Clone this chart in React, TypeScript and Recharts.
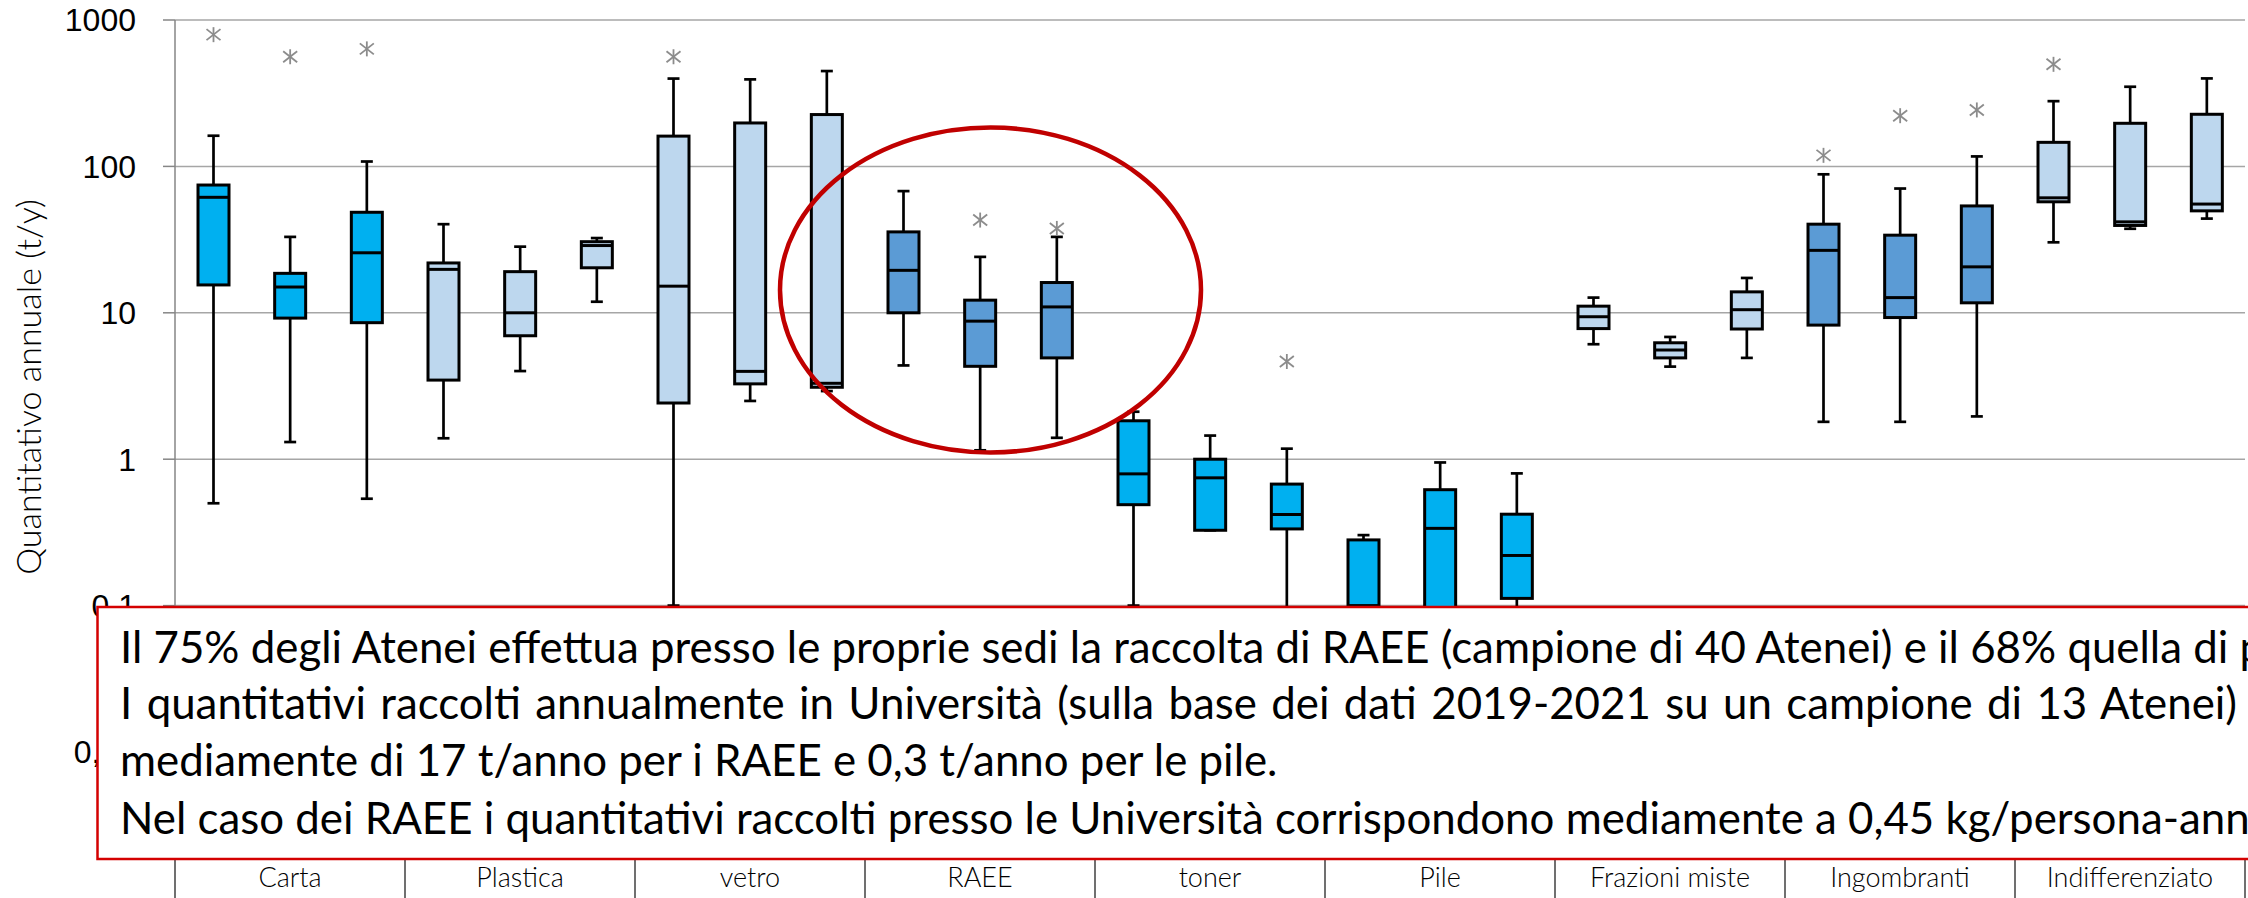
import React, { useLayoutEffect, useRef, useState } from 'react';
import { ComposedChart, Bar, XAxis, YAxis, CartesianGrid } from 'recharts';

const W = 2248;
const H = 898;
const PLOT_LEFT = 175;
const PLOT_RIGHT = 2245;
const PLOT_TOP = 20;
const AXIS_H = 146;
const N = 27;
const BAND = (PLOT_RIGHT - PLOT_LEFT) / N;
const BOX_W = 31;
const TEXT_X = 120;

const categories = ['Carta', 'Plastica', 'vetro', 'RAEE', 'toner', 'Pile', 'Frazioni miste', 'Ingombranti', 'Indifferenziato'];
const years = ['2019', '2020', '2021'];
const categoryColors = ['#00B0F0', '#BDD7EE', '#BDD7EE', '#5B9BD5', '#00B0F0', '#00B0F0', '#BDD7EE', '#5B9BD5', '#BDD7EE'];

// three boxes per category (2019, 2020, 2021), values in t/y
const whiskerLow = [0.5, 1.31, 0.537, 1.39, 4.0, 11.9, 0.1, 2.5, 2.92, 4.37, 1.15, 1.4, 0.1, 0.327, 0.09, 0.03, 0.02, 0.05, 6.1, 4.29, 4.92, 1.8, 1.8, 1.96, 30.3, 37.5, 44];
const q1 = [15.5, 9.2, 8.56, 3.47, 6.97, 20.3, 2.42, 3.27, 3.1, 10, 4.31, 4.92, 0.489, 0.327, 0.334, 0.05, 0.05, 0.112, 7.8, 4.92, 7.75, 8.24, 9.28, 11.7, 57.3, 39.5, 49.7];
const median = [61.5, 15, 25.7, 19.8, 10, 28.8, 15.2, 3.98, 3.3, 19.5, 8.77, 10.97, 0.794, 0.746, 0.419, 0.1, 0.337, 0.22, 9.4, 5.57, 10.5, 26.7, 12.7, 20.6, 61, 41.8, 55.3];
const q3 = [74.6, 18.6, 48.6, 21.9, 19.1, 30.6, 161, 198, 226, 35.7, 12.2, 16.1, 1.83, 1.0, 0.676, 0.281, 0.619, 0.421, 11.1, 6.24, 13.9, 40.3, 33.9, 53.7, 146, 197, 227];
const whiskerHigh = [162, 33, 108, 40.3, 28.3, 32.4, 398, 393, 448, 67.8, 24.1, 33, 2.11, 1.45, 1.18, 0.303, 0.95, 0.8, 12.7, 6.84, 17.3, 88.3, 70.6, 117, 279, 350, 399];
const outliers: (number | null)[] = [794, 561, 635, null, null, null, 561, null, null, null, 43, 37.7, null, null, 4.65, null, null, null, null, null, null, 119, 222, 243, 498, null, null];

const yTicks = [0.01, 0.1, 1, 10, 100, 1000];

const textLines = [
  'Il 75% degli Atenei effettua presso le proprie sedi la raccolta di RAEE (campione di 40 Atenei) e il 68% quella di pile',
  'I quantitativi raccolti annualmente in Università (sulla base dei dati 2019-2021 su un campione di 13 Atenei)',
  'mediamente di 17 t/anno per i RAEE e 0,3 t/anno per le pile.',
  'Nel caso dei RAEE i quantitativi raccolti presso le Università corrispondono mediamente a 0,45 kg/persona-anno',
];
const textBaselines = [663, 719, 776, 834];
// justified lines: [character index, x it should land on]; line 3 ends the paragraph and sets the glyph width
const justifyAnchors: ([number, number] | null)[] = [
  [textLines[0].lastIndexOf('pile'), 2238],
  [textLines[1].length, 2238],
  null,
  [textLines[3].length - 1, 2249],
];
const LINE3_END = 1278;

const data = whiskerLow.map((lo, i) => ({
  key: `${categories[Math.floor(i / 3)]} ${years[i % 3]}`,
  color: categoryColors[Math.floor(i / 3)],
  whisker: [lo, whiskerHigh[i]],
  box: [q1[i], q3[i]],
  med: [median[i], median[i]],
  out: outliers[i] == null ? null : [outliers[i], outliers[i]],
}));

const fmt = (v: number) => String(v).replace('.', ',');

function Whisker(p: any) {
  const cx = p.x + p.width / 2;
  const top = Math.min(p.y, p.y + p.height);
  const bot = Math.max(p.y, p.y + p.height);
  return (
    <g stroke="#000" strokeWidth={2.7}>
      <line x1={cx} x2={cx} y1={top} y2={bot} />
      <line x1={cx - 6} x2={cx + 6} y1={top} y2={top} />
      <line x1={cx - 6} x2={cx + 6} y1={bot} y2={bot} />
    </g>
  );
}

function BoxShape(p: any) {
  const top = Math.min(p.y, p.y + p.height);
  const h = Math.abs(p.height);
  return <rect x={p.x} y={top} width={p.width} height={h} fill={p.payload.color} stroke="#000" strokeWidth={3} />;
}

function MedianShape(p: any) {
  return <line x1={p.x} x2={p.x + p.width} y1={p.y} y2={p.y} stroke="#000" strokeWidth={3} />;
}

function Asterisk(p: any) {
  const cx = p.x + p.width / 2;
  const cy = p.y;
  return (
    <g stroke="#8C8C8C" strokeWidth={1.8}>
      <line x1={cx} x2={cx} y1={cy - 7.5} y2={cy + 7.5} />
      <line x1={cx - 7} x2={cx + 7} y1={cy - 5.5} y2={cy + 5.5} />
      <line x1={cx - 7} x2={cx + 7} y1={cy + 5.5} y2={cy - 5.5} />
    </g>
  );
}

function TableTick(p: any) {
  const { x, y, index } = p;
  const k = index % 3;
  return (
    <g>
      {k === 0 && <line x1={x - BAND / 2} x2={x - BAND / 2} y1={y} y2={y + AXIS_H} stroke="#404040" strokeWidth={1.5} />}
      {index === N - 1 && <line x1={x + BAND / 2} x2={x + BAND / 2} y1={y} y2={y + AXIS_H} stroke="#404040" strokeWidth={1.5} />}
      {k === 1 && (
        <text x={x} y={y + 135} textAnchor="middle" fontFamily="Lato, 'Open Sans', sans-serif" fontSize={27} fontWeight={300} fill="#000">
          {categories[(index - 1) / 3]}
        </text>
      )}
    </g>
  );
}

export default function App() {
  const lineRefs = useRef<(SVGTextElement | null)[]>([]);
  const [fit, setFit] = useState<{ sx: number; ws: number[] }>({ sx: 1, ws: [0, 0, 0, 0] });

  useLayoutEffect(() => {
    const els = lineRefs.current;
    if (els.length < 4 || !els.every(Boolean)) return;
    const sx = (LINE3_END - TEXT_X) / els[2]!.getComputedTextLength();
    const ws = justifyAnchors.map((a, i) => {
      if (!a) return 0;
      const [idx, target] = a;
      const sub = els[i]!.getSubStringLength(0, idx);
      const spaces = (textLines[i].slice(0, idx).match(/ /g) || []).length;
      return Math.max(0, ((target - TEXT_X) / sx - sub) / spaces);
    });
    setFit({ sx, ws });
  }, []);

  return (
    <div style={{ position: 'absolute', left: 0, top: 0, width: W, height: H, overflow: 'hidden', background: '#fff' }}>
      <ComposedChart
        width={W}
        height={H}
        data={data}
        margin={{ top: PLOT_TOP, right: W - PLOT_RIGHT, left: 0, bottom: 0 }}
        barGap={-BOX_W}
      >
        <CartesianGrid vertical={false} stroke="#A6A6A6" strokeWidth={1.5} />
        <XAxis
          dataKey="key"
          height={AXIS_H}
          axisLine={false}
          tickLine={false}
          tickSize={0}
          tickMargin={0}
          interval={0}
          tick={(p: any) => <TableTick {...p} />}
        />
        <YAxis
          scale="log"
          domain={[0.01, 1000]}
          allowDataOverflow
          ticks={yTicks}
          width={PLOT_LEFT}
          tickFormatter={fmt}
          tick={{ fontFamily: "'Liberation Sans', Arial, sans-serif", fontSize: 32, fill: '#000' }}
          tickSize={12}
          tickMargin={27}
          tickLine={{ stroke: '#868686', strokeWidth: 1.5 }}
          axisLine={{ stroke: '#868686', strokeWidth: 1.5 }}
        />
        <Bar dataKey="whisker" barSize={BOX_W} shape={<Whisker />} isAnimationActive={false} />
        <Bar dataKey="box" barSize={BOX_W} shape={<BoxShape />} isAnimationActive={false} />
        <Bar dataKey="med" barSize={BOX_W} shape={<MedianShape />} isAnimationActive={false} />
        <Bar dataKey="out" barSize={BOX_W} shape={<Asterisk />} isAnimationActive={false} />
      </ComposedChart>

      <svg width={W} height={H} style={{ position: 'absolute', left: 0, top: 0, pointerEvents: 'none' }}>
        <text
          transform="translate(41, 387) rotate(-90)"
          textAnchor="middle"
          fontFamily="Lato, 'Open Sans', sans-serif"
          fontSize={34}
          fontWeight={300}
          fill="#000"
        >
          Quantitativo annuale (t/y)
        </text>
        <ellipse cx={990.5} cy={290} rx={210.5} ry={162.5} fill="none" stroke="#C00000" strokeWidth={4.5} />
        <rect x={97.5} y={607} width={2400} height={252} fill="#fff" stroke="#D40000" strokeWidth={2.5} />
        <g transform={`translate(${TEXT_X}, 0) scale(${fit.sx}, 1)`} fontFamily="Lato, 'Open Sans', sans-serif" fontSize={44} fontWeight={400} fill="#000">
          {textLines.map((t, i) => (
            <text
              key={i}
              ref={(el) => { lineRefs.current[i] = el; }}
              x={0}
              y={textBaselines[i]}
              style={{ wordSpacing: fit.ws[i] }}
            >
              {t}
            </text>
          ))}
        </g>
      </svg>
    </div>
  );
}
